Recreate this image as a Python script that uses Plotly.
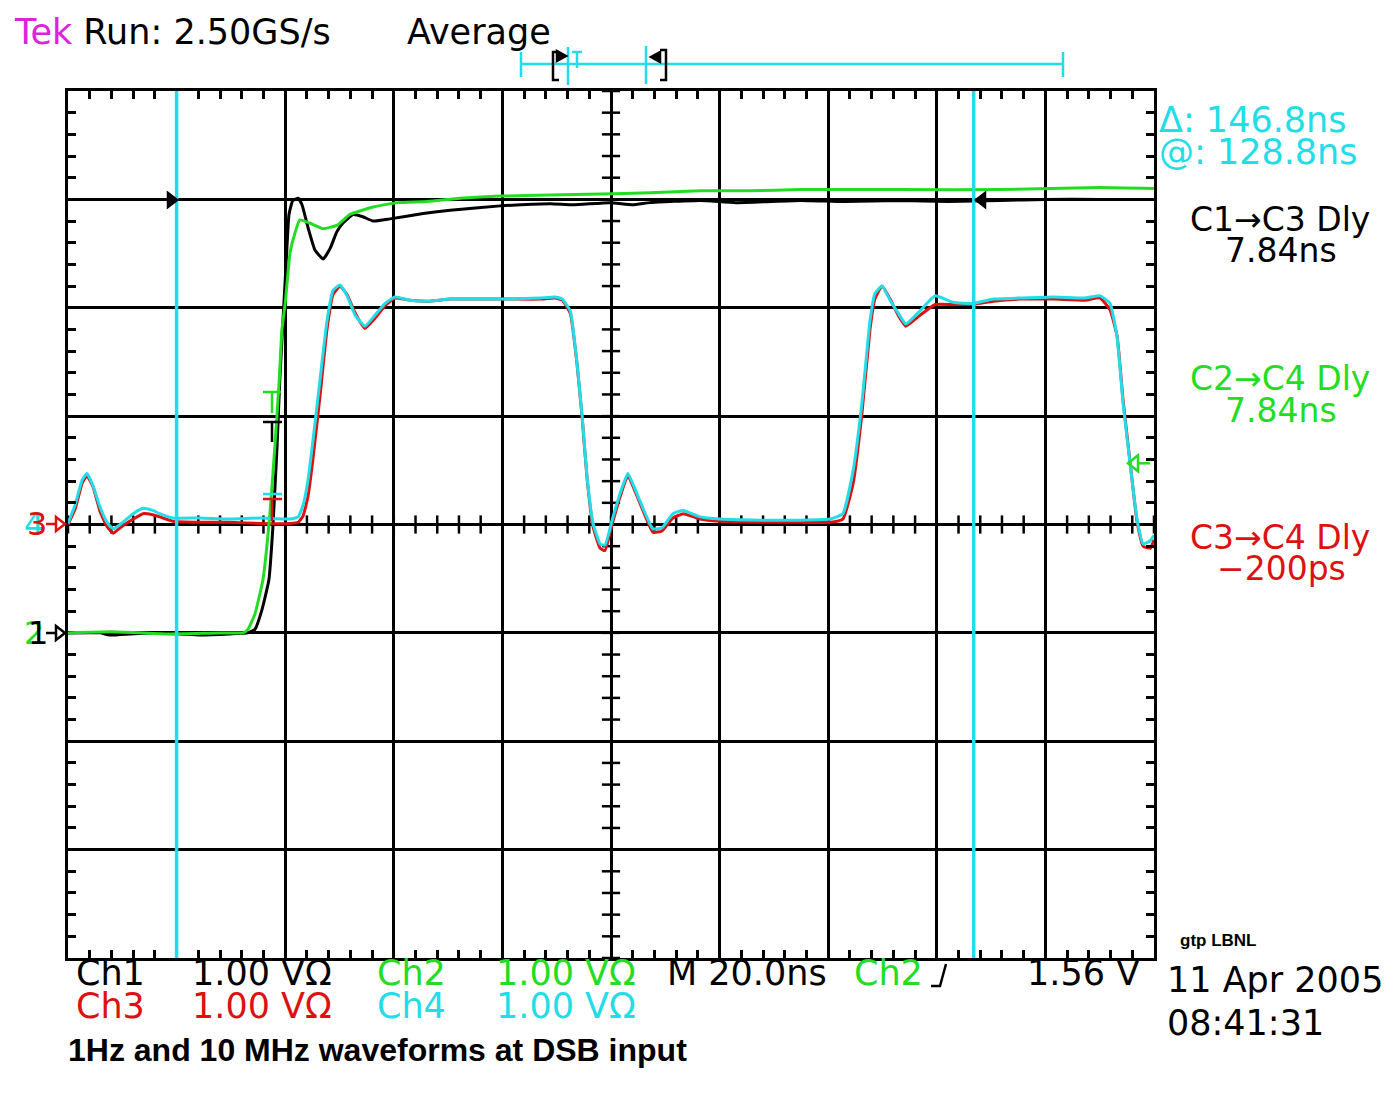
import numpy as np
import plotly.graph_objects as go

# Waveform samples: time in ns (trigger at 0), amplitude in volts
t_ch34 = [-38.0, -36.7, -35.4, -34.5, -33.4, -32.1, -30.8, -29.7, -28.4, -26.0,
          -24.2, -22.4, -21.1, -18.7, -13.7, -8.2, -2.6, 2.9, 4.4, 5.3,
          6.2, 7.1, 8.4, 9.7, 10.8, 12.1, 13.4, 14.9, 16.7, 18.5,
          20.4, 22.2, 25.0, 28.7, 32.4, 37.9, 43.4, 48.9, 51.7, 53.0,
          54.5, 55.7, 56.7, 57.6, 58.7, 60.0, 60.9, 62.2, 63.7, 65.1,
          67.3, 69.7, 71.4, 73.4, 75.3, 78.4, 82.1, 89.4, 96.8, 102.3,
          104.7, 106.6, 108.2, 109.7, 110.6, 111.9, 113.4, 114.9, 116.3, 118.9,
          121.7, 125.0, 128.7, 132.4, 137.3, 143.4, 149.3, 152.1, 153.9, 155.2,
          156.3, 157.6, 158.9, 160.0, 161.3, 162.0]
ch3_v = [0.00, 0.14, 0.38, 0.45, 0.35, 0.12, -0.02, -0.08, -0.03, 0.05,
         0.10, 0.09, 0.07, 0.03, 0.02, 0.02, 0.01, 0.01, 0.02, 0.08,
         0.26, 0.60, 1.18, 1.80, 2.12, 2.20, 2.12, 1.95, 1.81, 1.90,
         2.02, 2.09, 2.07, 2.06, 2.08, 2.08, 2.08, 2.08, 2.09, 2.07,
         1.95, 1.50, 0.98, 0.42, -0.02, -0.22, -0.24, 0.00, 0.26, 0.45,
         0.20, -0.07, -0.06, 0.06, 0.10, 0.05, 0.03, 0.02, 0.02, 0.02,
         0.05, 0.38, 1.02, 1.80, 2.08, 2.20, 2.08, 1.93, 1.83, 1.93,
         2.03, 2.03, 2.03, 2.06, 2.08, 2.08, 2.07, 2.09, 1.98, 1.74,
         1.15, 0.57, 0.02, -0.20, -0.22, -0.14]
ch4_v = [0.01, 0.18, 0.41, 0.47, 0.36, 0.16, 0.02, -0.04, 0.00, 0.10,
         0.15, 0.13, 0.10, 0.06, 0.06, 0.05, 0.06, 0.05, 0.07, 0.18,
         0.41, 0.77, 1.33, 1.88, 2.16, 2.21, 2.11, 1.93, 1.83, 1.93,
         2.04, 2.10, 2.07, 2.06, 2.08, 2.08, 2.08, 2.09, 2.10, 2.08,
         1.97, 1.51, 0.99, 0.43, 0.01, -0.18, -0.19, 0.04, 0.29, 0.47,
         0.22, -0.04, -0.03, 0.10, 0.13, 0.07, 0.05, 0.04, 0.04, 0.05,
         0.10, 0.50, 1.12, 1.88, 2.13, 2.20, 2.07, 1.95, 1.85, 1.97,
         2.11, 2.05, 2.04, 2.08, 2.09, 2.10, 2.09, 2.11, 2.04, 1.73,
         1.12, 0.56, 0.04, -0.18, -0.15, -0.10]

t_ch1 = [-38.0, -32.1, -30.3, -26.6, -23.0, -17.4, -13.7, -8.2, -4.9, -3.6,
         -2.3, -1.0, -0.3, 0.5, 1.0, 1.6, 2.2, 2.7, 3.4, 4.4,
         5.1, 6.2, 7.5, 9.0, 10.3, 11.5, 12.6, 14.5, 16.3, 18.2,
         21.3, 27.4, 32.4, 41.6, 50.8, 55.0, 61.8, 66.0, 69.2, 78.4,
         85.0, 96.8, 105.0, 115.2, 124.0, 133.6, 142.0, 152.1, 162.0]
ch1_v = [0.00, 0.00, -0.02, -0.01, 0.00, -0.01, -0.02, -0.01, 0.00, 0.03,
         0.21, 0.49, 0.95, 1.72, 2.33, 2.89, 3.44, 3.86, 3.99, 4.01,
         3.95, 3.74, 3.53, 3.45, 3.55, 3.70, 3.78, 3.86, 3.84, 3.80,
         3.82, 3.87, 3.90, 3.94, 3.96, 3.95, 3.97, 3.95, 3.97, 3.99,
         3.97, 3.99, 3.98, 3.99, 3.98, 3.99, 4.00, 4.00, 4.00]

t_ch2 = [-38.0, -30.0, -20.0, -10.0, -5.8, -4.9, -3.6, -2.1, -0.8, 0.1,
         0.9, 1.4, 2.0, 2.9, 3.8, 4.7, 6.6, 9.0, 11.5, 13.9,
         18.2, 22.6, 28.1, 34.2, 41.6, 50.8, 60.0, 69.2, 78.4, 87.6,
         96.8, 115.2, 133.6, 152.1, 162.0]
ch2_v = [0.00, 0.01, -0.01, 0.00, 0.00, 0.03, 0.17, 0.49, 1.11, 1.72,
         2.33, 2.80, 3.04, 3.51, 3.69, 3.81, 3.78, 3.73, 3.76, 3.86,
         3.93, 3.97, 3.98, 4.01, 4.03, 4.04, 4.05, 4.06, 4.08, 4.08,
         4.09, 4.09, 4.09, 4.11, 4.10]

# scope settings
ch_pos = {1: -1.0, 2: -1.0, 3: 0.0, 4: 0.0}   # ground marker position in divisions
volts_per_div = 1.0
ns_per_div = 20.0
t_left = -38.0
cursor_at = 128.8
cursor_delta = 146.8
trig_level = 1.56

TEK = "DejaVu Sans"
BLACK, CYAN, GREEN, RED, MAGENTA = "#000000", "#22dde8", "#22dd22", "#dd1111", "#dd22dd"

# screen and plot area in pixels; the page body adds an 8px margin
W, H, OFF = 1395, 1095, 8
L, R, T, B = 68, 1154, 91, 958


def xp(px):
    return (px - L) / (R - L)


def yp(py):
    return (B - py) / (B - T)


fig = go.Figure()

# centre graticule ticks
t_right = t_left + 10 * ns_per_div
xt = np.arange(t_left, t_right + 0.01, ns_per_div / 5)
yt = np.arange(-4, 4.01, 0.2)
fig.add_trace(go.Scatter(x=xt, y=np.zeros_like(xt), mode="markers", hoverinfo="skip",
                         marker=dict(symbol="line-ns", size=13, line=dict(width=2.5, color=BLACK))))
fig.add_trace(go.Scatter(x=np.full_like(yt, t_left + 5 * ns_per_div), y=yt, mode="markers", hoverinfo="skip",
                         marker=dict(symbol="line-ew", size=13, line=dict(width=2.5, color=BLACK))))

channels = [
    (t_ch1, ch1_v, BLACK, 1),
    (t_ch34, ch3_v, RED, 3),
    (t_ch2, ch2_v, GREEN, 2),
    (t_ch34, ch4_v, CYAN, 4),
]
for t, v, col, ch in channels:
    fig.add_trace(go.Scatter(
        x=t, y=[a / volts_per_div + ch_pos[ch] for a in v], mode="lines", hoverinfo="skip",
        line=dict(color=col, width=3, shape="spline", smoothing=0.4),
    ))

fig.update_xaxes(range=[t_left, t_right], showticklabels=False, ticks="", tick0=t_left, dtick=ns_per_div,
                 showgrid=True, gridcolor=BLACK, gridwidth=2.5, zeroline=False,
                 showline=True, linecolor=BLACK, linewidth=3, mirror="ticks",
                 minor=dict(tick0=t_left, dtick=ns_per_div / 5, ticks="inside", ticklen=8,
                            tickwidth=2.5, tickcolor=BLACK, showgrid=False))
fig.update_yaxes(range=[-4, 4], showticklabels=False, ticks="", tick0=-4, dtick=1,
                 showgrid=True, gridcolor=BLACK, gridwidth=2.5, zeroline=False,
                 showline=True, linecolor=BLACK, linewidth=3, mirror="ticks",
                 minor=dict(tick0=-4, dtick=0.2, ticks="inside", ticklen=8,
                            tickwidth=2.5, tickcolor=BLACK, showgrid=False))

shapes = []

# cursors
for xc in [cursor_at - cursor_delta, cursor_at]:
    shapes.append(dict(type="line", xref="x", yref="paper", x0=xc, x1=xc, y0=0, y1=1,
                       line=dict(color=CYAN, width=3.5), layer="above"))


def seg(x0, y0, x1, y1, col, w=2.5):
    shapes.append(dict(type="line", xref="paper", yref="paper", x0=xp(x0), y0=yp(y0),
                       x1=xp(x1), y1=yp(y1), line=dict(color=col, width=w)))


def poly(pts, col, fill=None, close=True, w=2.5):
    path = "M " + " L ".join(f"{xp(a)},{yp(b)}" for a, b in pts) + (" Z" if close else "")
    shapes.append(dict(type="path", xref="paper", yref="paper", path=path,
                       line=dict(color=col, width=w), fillcolor=fill))


# record bar at the top
seg(521, 64, 1063, 64, CYAN)
for xx, a, b in [(521, 52, 77), (568, 47, 85), (646, 46, 84), (1063, 52, 77)]:
    seg(xx, a, xx, b, CYAN)
seg(572, 52, 582, 52, CYAN)
seg(577, 52, 577, 68, CYAN)
poly([(559, 52), (553, 52), (553, 80), (559, 80)], BLACK, close=False)
poly([(557, 51), (566, 56), (557, 61)], BLACK, fill=BLACK)
poly([(660, 52), (651, 57), (660, 62)], BLACK, fill=BLACK)
poly([(660, 50), (666, 50), (666, 80), (660, 80)], BLACK, close=False)

# ground markers on the left
seg(46, 524, 56, 524, RED)
poly([(56, 517), (65, 524), (56, 531)], RED)
seg(46, 633, 56, 633, BLACK)
poly([(56, 626), (65, 633), (56, 640)], BLACK)

# level markers
poly([(168, 193), (177, 200), (168, 207)], BLACK, fill=BLACK)
poly([(985, 193), (976, 200), (985, 207)], BLACK, fill=BLACK)
y_trig = 524 - (trig_level / volts_per_div + ch_pos[2]) * (B - T) / 8
poly([(1138, y_trig - 8), (1128, y_trig), (1138, y_trig + 8)], GREEN)
seg(1138, y_trig, 1150, y_trig, GREEN)

# delay measurement markers on the edge
seg(263, 392, 281, 392, GREEN)
seg(272, 392, 272, 413, GREEN)
seg(263, 422, 282, 422, BLACK)
seg(272, 422, 272, 442, BLACK)
seg(263, 494, 282, 494, CYAN)
seg(263, 499, 282, 499, RED)
seg(272, 499, 272, 521, RED)

# trigger slope symbol
poly([(931, 986), (940, 986), (946, 964)], BLACK, close=False)

ann = []


def label(txt, x, y, col=BLACK, size=35, anchor="left", family=TEK):
    ann.append(dict(text=txt, x=xp(x), y=yp(y), xref="paper", yref="paper", xanchor=anchor,
                    yanchor="middle", showarrow=False, font=dict(family=family, size=size, color=col)))


label(f"<span style='color:{MAGENTA}'>Tek</span> Run: 2.50GS/s", 12, 32)
label("Average", 405, 32)
label(f"Δ: {cursor_delta}ns", 1157, 120, CYAN)
label(f"@: {cursor_at}ns", 1157, 152, CYAN)
label("C1→C3 Dly", 1280, 220, BLACK, size=33, anchor="center")
label("7.84ns", 1281, 251, BLACK, size=33, anchor="center")
label("C2→C4 Dly", 1280, 378, GREEN, size=33, anchor="center")
label("7.84ns", 1281, 410, GREEN, size=33, anchor="center")
label("C3→C4 Dly", 1280, 537, RED, size=33, anchor="center")
label("−200ps", 1281, 568, RED, size=33, anchor="center")
label("4", 22, 524, CYAN, size=32)
label("3", 25, 524, RED, size=32)
label("2", 22, 633, GREEN, size=32)
label("1", 26, 633, BLACK, size=32)

label("Ch1", 74, 973)
label("1.00 VΩ", 190, 973)
label("Ch2", 375, 973, GREEN)
label("1.00 VΩ", 494, 973, GREEN)
label("M 20.0ns", 665, 973)
label("Ch2", 852, 973, GREEN)
label(f"{trig_level} V", 1142, 973, anchor="right")
label("Ch3", 74, 1006, RED)
label("1.00 VΩ", 190, 1006, RED)
label("Ch4", 375, 1006, CYAN)
label("1.00 VΩ", 494, 1006, CYAN)

label("<b>gtp LBNL</b>", 1178, 940, size=17, family="Liberation Sans")
label("11 Apr 2005", 1165, 980)
label("08:41:31", 1165, 1023)
label("<b>1Hz and 10 MHz waveforms at DSB input</b>", 66, 1050, size=32, family="Liberation Sans")

fig.update_layout(
    width=W - OFF, height=H - OFF,
    margin=dict(l=L - OFF, r=W - R, t=T - OFF, b=H - B),
    paper_bgcolor="white", plot_bgcolor="white",
    showlegend=False, shapes=shapes, annotations=ann,
)

fig.write_html("out.html")
